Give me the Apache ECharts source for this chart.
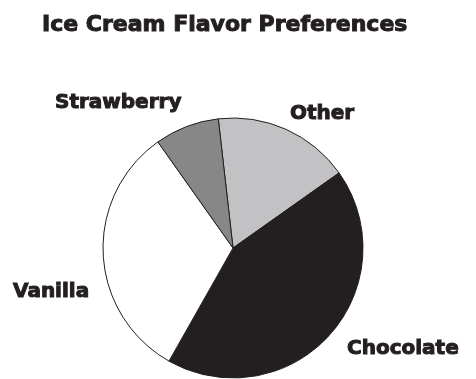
<!DOCTYPE html>
<html>
<head>
<meta charset="utf-8">
<script src="https://cdn.jsdelivr.net/npm/echarts@6/dist/echarts.min.js"></script>
<style>
html,body{margin:0;padding:0;background:#fff;}
#chart{width:476px;height:379px;}
</style>
</head>
<body>
<div id="chart"></div>
<script>
// Data
var categories = ['Other', 'Chocolate', 'Vanilla', 'Strawberry'];
var values = [17, 43, 32, 8];
var colors = ['#c2c2c4', '#231f20', '#ffffff', '#878787'];
var titleText = 'Ice Cream Flavor Preferences';

// label anchor positions (layout only)
var labelPos = [[290, 114], [347, 349], [13, 292], [55, 103]];

var chart = echarts.init(document.getElementById('chart'), null, {renderer: 'canvas'});
var textStyle = {
  fontFamily: 'DejaVu Sans',
  fontWeight: 'bold',
  color: '#231f20',
  textBorderColor: '#231f20',
  textBorderWidth: 1
};
chart.setOption({
  animation: false,
  backgroundColor: '#ffffff',
  title: {
    text: titleText,
    left: 37,
    top: 9,
    textStyle: Object.assign({}, textStyle, {fontSize: 22})
  },
  series: [{
    type: 'pie',
    center: [233, 248],
    radius: 130,
    startAngle: 96.5,
    clockwise: true,
    data: categories.map(function (c, i) {
      return {name: c, value: values[i], itemStyle: {color: colors[i]}};
    }),
    itemStyle: {borderColor: '#231f20', borderWidth: 1},
    label: Object.assign({show: true, position: 'outside', formatter: '{b}', fontSize: 20, overflow: 'none', width: 300}, textStyle),
    labelLine: {show: false},
    labelLayout: function (p) {
      var pos = labelPos[p.dataIndex];
      return {x: pos[0], y: pos[1], align: 'left', verticalAlign: 'middle'};
    },
    emphasis: {disabled: true}
  }]
});
</script>
</body>
</html>
